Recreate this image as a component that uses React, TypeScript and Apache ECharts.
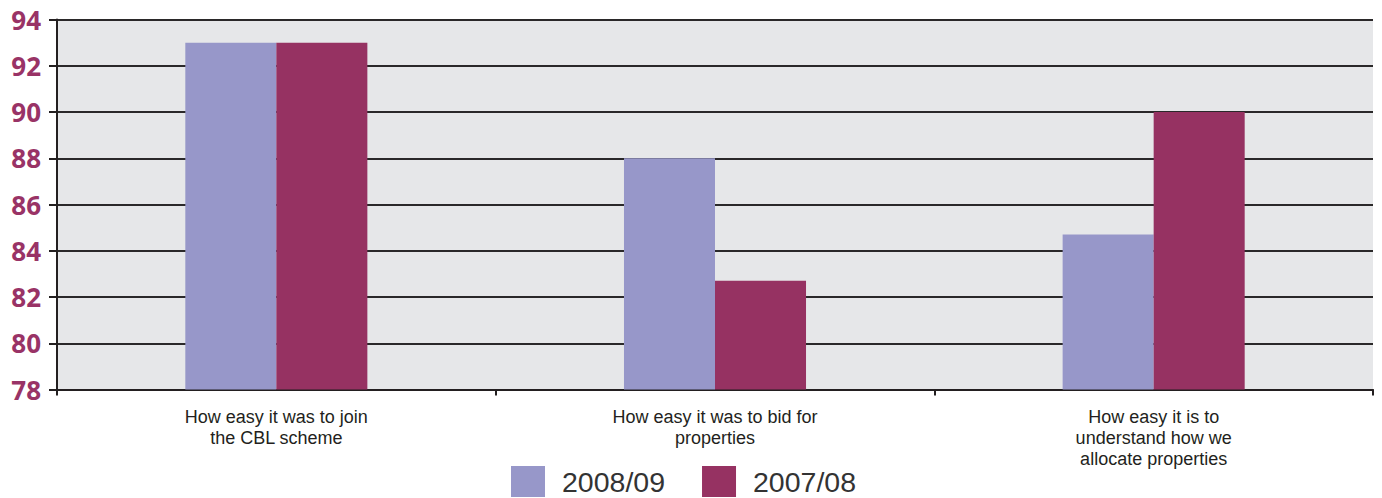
import React, { useEffect, useRef } from "react";
import * as echarts from "echarts";

const categories = [
  "How easy it was to join\nthe CBL scheme",
  "How easy it was to bid for\nproperties",
  "How easy it is to\nunderstand how we\nallocate properties",
];
const seriesNames = ["2008/09", "2007/08"];
const values2008 = [93, 88, 84.7];
const values2007 = [93, 82.7, 90];
const yMin = 78;
const yMax = 94;
const yStep = 2;

const PURPLE = "#9797C9";
const PLUM = "#963262";
const INK = "#231F20";
const FONT = "'Open Sans', 'Noto Sans', sans-serif";
const TEXT_FONT = "'Liberation Sans', Arial, sans-serif";

export default function App() {
  const ref = useRef<HTMLDivElement>(null);

  useEffect(() => {
    document.body.style.margin = "0";
    if (!ref.current) return;
    const chart = echarts.init(ref.current, null, { renderer: "svg" });
    chart.setOption({
      animation: false,
      grid: {
        left: 57,
        right: 9,
        top: 19.5,
        bottom: 108.5,
        show: true,
        backgroundColor: "#E6E7E9",
        borderWidth: 0,
      },
      legend: {
        data: seriesNames,
        left: 506,
        top: 461,
        padding: 5,
        itemWidth: 34,
        itemHeight: 31,
        itemGap: 37,
        icon: "rect",
        textStyle: {
          fontFamily: TEXT_FONT,
          fontSize: 28.5,
          lineHeight: 28,
          color: "#333333",
          padding: [0, 0, 0, 12],
        },
      },
      xAxis: {
        type: "category",
        data: categories,
        axisLine: { show: true, lineStyle: { color: INK, width: 2 } },
        axisTick: { show: true, length: 6, lineStyle: { color: INK, width: 2 } },
        axisLabel: {
          fontFamily: TEXT_FONT,
          fontSize: 18,
          lineHeight: 21,
          color: INK,
          margin: 17,
          interval: 0,
        },
      },
      yAxis: {
        type: "value",
        min: yMin,
        max: yMax,
        interval: yStep,
        axisLine: { show: true, lineStyle: { color: INK, width: 2 } },
        axisTick: { show: true, length: 8, lineStyle: { color: INK, width: 2 } },
        splitLine: { show: true, lineStyle: { color: "#2A2829", width: 2 } },
        axisLabel: {
          fontFamily: FONT,
          fontWeight: "bold",
          fontSize: 26,
          color: "#993366",
          margin: 16,
        },
      },
      series: [
        {
          name: seriesNames[0],
          type: "bar",
          data: values2008,
          itemStyle: { color: PURPLE },
          barGap: "0%",
          barCategoryGap: "58.5%",
        },
        {
          name: seriesNames[1],
          type: "bar",
          data: values2007,
          itemStyle: { color: PLUM },
          barGap: "0%",
          barCategoryGap: "58.5%",
        },
      ],
    });
    return () => chart.dispose();
  }, []);

  return <div ref={ref} style={{ width: 1382, height: 498 }} />;
}
